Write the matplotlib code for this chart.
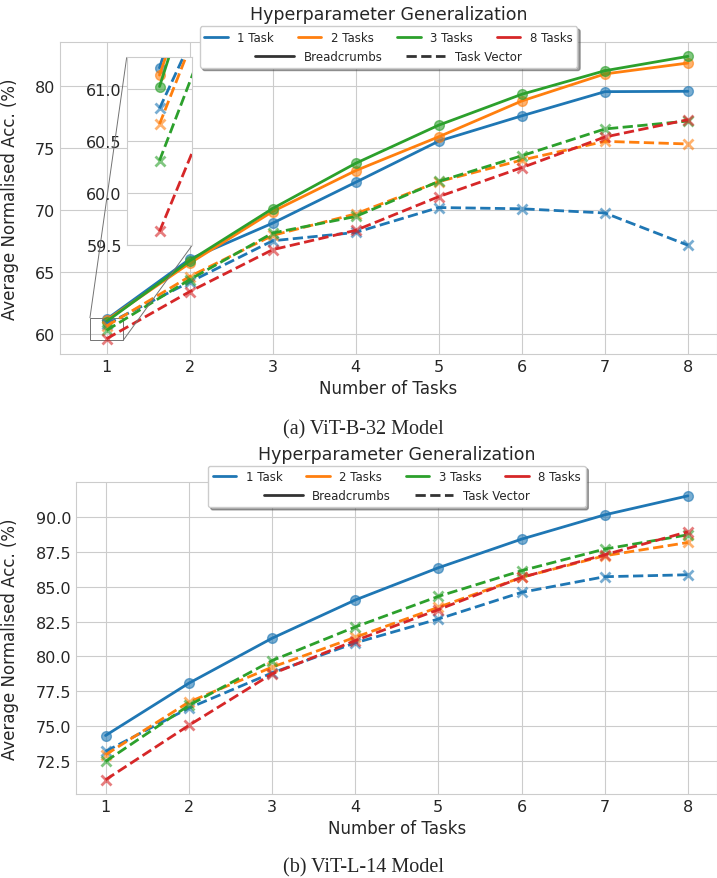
import matplotlib

matplotlib.use("Agg")
import matplotlib.pyplot as plt
import seaborn as sns
from matplotlib.colors import to_rgba
from matplotlib.legend import Legend
from matplotlib.lines import Line2D
from mpl_toolkits.axes_grid1.inset_locator import mark_inset

tasks = [1, 2, 3, 4, 5, 6, 7, 8]
task_labels = ["1 Task", "2 Tasks", "3 Tasks", "8 Tasks"]
task_colors = ["#1f77b4", "#ff7f0e", "#2ca02c", "#d62728"]
method_labels = ["Breadcrumbs", "Task Vector"]

# ViT-B-32: accuracy per number of evaluated tasks, keyed by tuning-set size
b32_breadcrumbs = {
    "1 Task": [61.20, 66.05, 68.96, 72.26, 75.58, 77.62, 79.57, 79.60],
    "2 Tasks": [61.13, 65.72, 69.90, 73.20, 75.93, 78.82, 81.00, 81.88],
    "3 Tasks": [61.02, 65.92, 70.14, 73.79, 76.87, 79.36, 81.26, 82.42],
}
b32_task_vector = {
    "1 Task": [60.81, 64.20, 67.54, 68.21, 70.22, 70.12, 69.78, 67.18],
    "2 Tasks": [60.66, 64.65, 67.97, 69.71, 72.31, 74.05, 75.56, 75.35],
    "3 Tasks": [60.31, 64.40, 68.16, 69.50, 72.33, 74.40, 76.56, 77.20],
    "8 Tasks": [59.63, 63.43, 66.82, 68.38, 71.10, 73.44, 75.91, 77.31],
}

# ViT-L-14
l14_breadcrumbs = {
    "1 Task": [74.34, 78.08, 81.30, 84.04, 86.35, 88.40, 90.14, 91.50],
}
l14_task_vector = {
    "1 Task": [73.20, 76.30, 78.82, 80.97, 82.68, 84.59, 85.71, 85.85],
    "2 Tasks": [72.96, 76.73, 79.23, 81.37, 83.52, 85.66, 87.21, 88.16],
    "3 Tasks": [72.48, 76.49, 79.70, 82.11, 84.30, 86.14, 87.69, 88.71],
    "8 Tasks": [71.17, 75.06, 78.75, 81.13, 83.35, 85.66, 87.28, 88.93],
}

l14_yticks = [72.5, 75.0, 77.5, 80.0, 82.5, 85.0, 87.5, 90.0]
inset_yticks = [59.5, 60.0, 60.5, 61.0]


def draw_series(ax, breadcrumbs, task_vector):
    for label, color in zip(task_labels, task_colors):
        if label in breadcrumbs:
            ax.plot(tasks, breadcrumbs[label], color=color, lw=2, ls="-",
                    marker="o", ms=7, mfc=to_rgba(color, 0.6), mec=to_rgba(color, 0.6))
    for label, color in zip(task_labels, task_colors):
        if label in task_vector:
            ax.plot(tasks, task_vector[label], color=color, lw=2, ls="--",
                    marker="x", ms=6.5, mew=2, mec=to_rgba(color, 0.6))


def add_legend(ax, y):
    task_handles = [Line2D([], [], color=c, lw=2) for c in task_colors]
    leg = ax.legend(task_handles, task_labels, ncol=4, loc="upper center",
                    bbox_to_anchor=(0.5, y), fontsize=8.5, frameon=True, shadow=True,
                    framealpha=1, edgecolor="0.8", borderaxespad=0)
    style_handles = [Line2D([], [], color="0.2", lw=2, ls="-"),
                     Line2D([], [], color="0.2", lw=2, ls="--")]
    row = Legend(ax, style_handles, method_labels, ncol=2, fontsize=8.5, handlelength=3.3)
    # second, centred row inside the same frame
    leg._legend_box._children.append(row._legend_handle_box)
    return leg


def style_axes(ax):
    ax.set_xticks(tasks)
    ax.tick_params(labelsize=11.5, colors="0.15", length=0)
    ax.set_xlabel("Number of Tasks", fontsize=12, color="0.15", labelpad=4)
    ax.set_ylabel("Average Normalised Acc. (%)", fontsize=12, color="0.15")
    ax.set_title("Hyperparameter Generalization", fontsize=12.5, color="0.15", pad=16)


def main():
    sns.set_style("whitegrid")
    plt.rcParams["font.family"] = ["DejaVu Sans"]

    fig = plt.figure(figsize=(7.17, 8.79), dpi=100)

    # ViT-B-32 with zoomed inset around the first point
    ax1 = fig.add_axes([0.0837, 0.5961, 0.9163, 0.3553])
    draw_series(ax1, b32_breadcrumbs, b32_task_vector)
    style_axes(ax1)
    ax1.set_xlim(0.44, 8.35)
    ax1.set_ylim(58.4, 83.6)
    ax1.yaxis.set_label_coords(-0.062, 0.5)
    add_legend(ax1, 1.049)

    axins = ax1.inset_axes([0.1015, 0.349, 0.0999, 0.601])
    draw_series(axins, b32_breadcrumbs, b32_task_vector)
    axins.set_xlim(0.8, 1.2)
    axins.set_ylim(59.5, 61.3)
    axins.set_xticks([])
    axins.set_yticks(inset_yticks)
    axins.tick_params(labelsize=11.5, colors="0.15", length=0)
    for spine in axins.spines.values():
        spine.set_edgecolor("0.8")
    mark_inset(ax1, axins, loc1=2, loc2=4, fc="none", ec="0.45", lw=0.7)

    fig.text(0.507, 1 - 430 / 879, "(a) ViT-B-32 Model", ha="center", va="center",
             family="Liberation Serif", fontsize=14.5)

    # ViT-L-14
    ax2 = fig.add_axes([0.1066, 0.0956, 0.8934, 0.3553])
    draw_series(ax2, l14_breadcrumbs, l14_task_vector)
    style_axes(ax2)
    ax2.set_xlim(0.65, 8.35)
    ax2.set_yticks(l14_yticks)
    ax2.yaxis.set_label_coords(-0.0896, 0.5)
    add_legend(ax2, 1.051)

    fig.text(0.507, 1 - 868 / 879, "(b) ViT-L-14 Model", ha="center", va="center",
             family="Liberation Serif", fontsize=14.5)

    fig.savefig("out.png", dpi=100)
    plt.close(fig)


if __name__ == "__main__":
    main()
